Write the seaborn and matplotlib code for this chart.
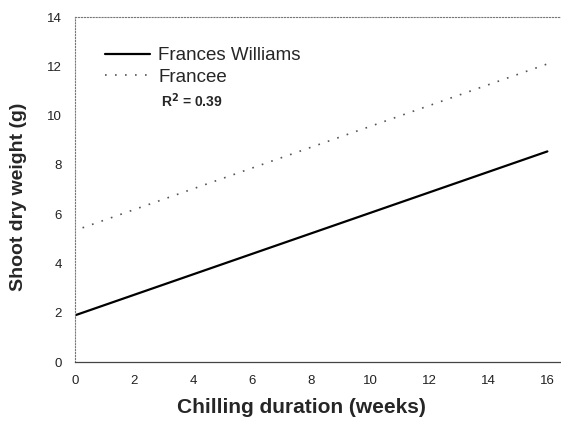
import matplotlib
matplotlib.use("Agg")
import matplotlib.pyplot as plt
import pandas as pd
import seaborn as sns

# fitted regression lines
weeks_williams = [0, 16]
weight_williams = [1.9, 8.55]
weeks_francee = [0.25, 16]
weight_francee = [5.45, 12.1]
x_ticks = [0, 2, 4, 6, 8, 10, 12, 14, 16]
y_ticks = [0, 2, 4, 6, 8, 10, 12, 14]
r2_text = "R$^\\mathbf{2}$ = 0.39"

df = pd.concat([
    pd.DataFrame({"weeks": weeks_williams, "weight": weight_williams, "cultivar": "Frances Williams"}),
    pd.DataFrame({"weeks": weeks_francee, "weight": weight_francee, "cultivar": "Francee"}),
])

sns.set_style("white")
plt.rcParams["font.family"] = ["Liberation Sans", "DejaVu Sans"]

fig = plt.figure(figsize=(5.61, 4.28), dpi=100)
ax = fig.add_axes([0.134, 0.154, 0.868, 0.806])

sns.lineplot(data=df[df.cultivar == "Frances Williams"], x="weeks", y="weight",
             color="black", linewidth=1.6, label="Frances Williams", ax=ax)
sns.lineplot(data=df[df.cultivar == "Francee"], x="weeks", y="weight",
             color="#555555", linewidth=1.2, linestyle=(0, (1, 5)), label="Francee", ax=ax)

ax.set_xlim(0, 16.5)
ax.set_ylim(0, 14)
ax.set_xticks(x_ticks)
ax.set_yticks(y_ticks)
ax.tick_params(labelsize=9.5, length=3, width=0.6, color="#555555", direction="inout",
               labelcolor="#222222")
ax.tick_params(axis="x", pad=8)
ax.tick_params(axis="y", pad=8)

for side in ["left", "top"]:
    ax.spines[side].set_color("#777777")
    ax.spines[side].set_linewidth(0.8)
    ax.spines[side].set_linestyle(":")
ax.spines["bottom"].set_color("#444444")
ax.spines["bottom"].set_linewidth(0.9)
ax.spines["right"].set_visible(False)

ax.set_xlabel("Chilling duration (weeks)", fontsize=15, fontweight="bold")
ax.set_ylabel("Shoot dry weight (g)", fontsize=14, fontweight="bold")
ax.xaxis.set_label_coords(0.464, -0.105)
ax.yaxis.set_label_coords(-0.098, 0.478)

ax.legend(loc="upper left", bbox_to_anchor=(0.045, 0.935), frameon=False, fontsize=13.5,
          handlelength=2.4, handletextpad=0.45, labelspacing=0.25, borderaxespad=0)
ax.text(0.176, 0.74, r2_text, transform=ax.transAxes, fontsize=10, fontweight="bold")

fig.savefig("out.png", dpi=100)
